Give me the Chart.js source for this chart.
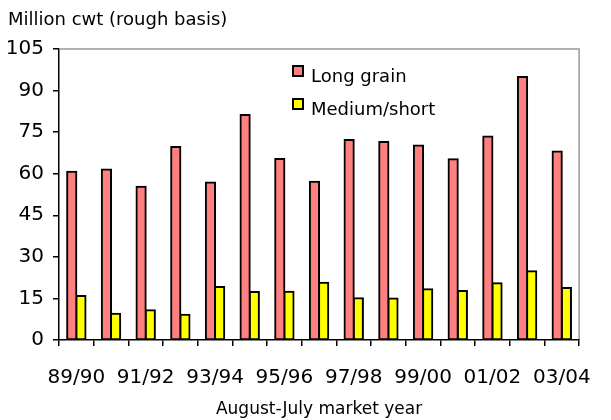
<!DOCTYPE html>
<html>
<head>
<meta charset="utf-8">
<script src="https://cdn.jsdelivr.net/npm/chart.js@4/dist/chart.umd.min.js"></script>
<style>
  html, body { margin: 0; padding: 0; background: #ffffff; }
  canvas { display: block; }
</style>
</head>
<body>
<canvas id="c" width="611" height="420"></canvas>
<script>
const categories = ["89/90","90/91","91/92","92/93","93/94","94/95","95/96","96/97","97/98","98/99","99/00","00/01","01/02","02/03","03/04"];
const longGrain = [60.7, 61.5, 55.3, 69.6, 56.8, 81.2, 65.3, 57.1, 72.2, 71.4, 70.2, 65.2, 73.4, 94.9, 68.0];
const mediumShort = [15.9, 9.5, 10.7, 9.1, 19.1, 17.3, 17.4, 20.7, 15.1, 15.0, 18.3, 17.7, 20.5, 24.8, 18.8];
const seriesNames = ["Long grain", "Medium/short"];
const yTitle = "Million cwt (rough basis)";
const xTitle = "August-July market year";

const FONT = "'DejaVu Sans', 'Liberation Sans', Arial, sans-serif";

const frameAndLegend = {
  id: 'frameAndLegend',
  beforeDatasetsDraw(chart) {
    const {ctx, chartArea: a} = chart;
    ctx.save();
    ctx.strokeStyle = '#999999';
    ctx.lineWidth = 1.5;
    ctx.beginPath();
    ctx.moveTo(a.left, a.top);
    ctx.lineTo(a.right, a.top);
    ctx.lineTo(a.right, a.bottom);
    ctx.stroke();
    ctx.restore();
  },
  afterDraw(chart) {
    const {ctx} = chart;
    ctx.save();
    const x0 = 292, rows = [65, 98];
    chart.data.datasets.forEach((ds, i) => {
      const y = rows[i];
      ctx.fillStyle = ds.backgroundColor;
      ctx.fillRect(x0, y, 12, 12);
      ctx.strokeStyle = '#000';
      ctx.lineWidth = 2;
      ctx.strokeRect(x0 + 1, y + 1, 10, 10);
      ctx.fillStyle = '#000';
      ctx.font = "18px " + FONT;
      ctx.textBaseline = 'alphabetic';
      ctx.textAlign = 'left';
      ctx.fillText(ds.label, 311, y + 17);
    });
    ctx.restore();
  }
};

new Chart(document.getElementById('c'), {
  type: 'bar',
  data: {
    labels: categories,
    datasets: [
      { label: seriesNames[0], data: longGrain, backgroundColor: '#FF8080', borderColor: '#000000', borderWidth: 2, borderSkipped: false, inflateAmount: 1, barPercentage: 1.0, categoryPercentage: 0.53 },
      { label: seriesNames[1], data: mediumShort, backgroundColor: '#FFFF00', borderColor: '#000000', borderWidth: 2, borderSkipped: false, inflateAmount: 1, barPercentage: 1.0, categoryPercentage: 0.53 }
    ]
  },
  options: {
    responsive: false,
    animation: false,
    devicePixelRatio: 1,
    layout: { padding: { left: 8, right: 12, top: 0, bottom: 0 } },
    plugins: {
      legend: { display: false },
      tooltip: { enabled: false },
      title: {
        display: true,
        text: yTitle,
        align: 'start',
        color: '#000',
        font: { family: FONT, size: 18, weight: 'normal' },
        padding: { top: 10, bottom: 17.4 }
      }
    },
    scales: {
      x: {
        grid: { display: true, drawOnChartArea: false, drawTicks: true, tickLength: 6, color: '#000', offset: true, lineWidth: 1.5 },
        border: { display: true, color: '#000', width: 1.5, z: 1 },
        ticks: {
          autoSkip: false, maxRotation: 0, minRotation: 0, padding: 20, color: '#000',
          font: { family: FONT, size: 20 },
          callback: function(v, i) { return i % 2 === 0 ? categories[i] : ''; }
        },
        title: { display: true, text: xTitle, color: '#000', font: { family: FONT, size: 17 }, padding: { top: 0, bottom: 0 } },
        afterFit(scale) { scale.height = 80; }
      },
      y: {
        min: 0, max: 105,
        grid: { display: true, drawOnChartArea: false, drawTicks: true, tickLength: 6, color: '#000', lineWidth: 1.5 },
        border: { display: true, color: '#000', width: 1.5 },
        ticks: { stepSize: 15, padding: 9, color: '#000', font: { family: FONT, size: 20 } },
        afterFit(scale) { scale.width = 51; }
      }
    }
  },
  plugins: [frameAndLegend]
});
</script>
</body>
</html>
